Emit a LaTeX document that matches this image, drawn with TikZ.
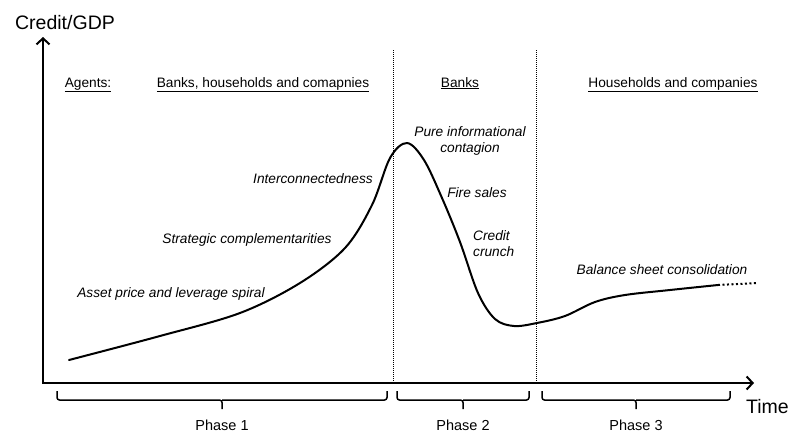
\documentclass[tikz,border=0pt]{standalone}
\usepackage{fontspec}
\setmainfont{Liberation Sans}
\usetikzlibrary{arrows.meta, calc, positioning}

\newcommand{\phasebrace}[2]{%
	\draw [brace] (#1) |- ($(#1)!0.5!(#2)+(0,9)$) -- ++(0,9) ++(0,-9) -| (#2);}

\begin{document}
\begin{tikzpicture}[x=1pt, y=-1pt]

\tikzstyle{axis}	=[line width=2pt, line join=miter, {Straight Barb[length=6pt,width=13pt,line width=2pt]}-{Straight Barb[length=6pt,width=13pt,line width=2pt]}]
\tikzstyle{sep}		=[line width=1pt, dash pattern=on 1pt off 1pt]
\tikzstyle{curve}	=[line width=2pt, line cap=round, line join=round]
\tikzstyle{tail}	=[line width=2pt, dash pattern=on 2pt off 2.5pt]
\tikzstyle{brace}	=[line width=1.5pt, rounded corners=2.5pt]
\tikzstyle{big}		=[inner sep=0pt, font=\fontsize{19.5}{22}\selectfont]
\tikzstyle{hdr}		=[inner sep=0pt, anchor=base, font=\fontsize{13.7}{16}\selectfont]
\tikzstyle{mech}	=[inner sep=0pt, font=\fontsize{13.7}{16}\selectfont\itshape]
\tikzstyle{phase}	=[inner sep=0pt, anchor=base, font=\fontsize{14.5}{17}\selectfont]

\useasboundingbox (0,0) rectangle (800,434);

\coordinate (o)    at (43,383);
\coordinate (ytop) at (43,37);
\coordinate (xend) at (754,383);

\node[big, anchor=base]      (ylab) at (65,29)   {Credit/GDP};
\node[big, anchor=base west] (xlab) at (746,413) {Time};

\draw [axis] (ytop) -- (o) -- (xend);

\coordinate (d1t) at (393,50);
\coordinate (d1b) at (393,383);
\coordinate (d2t) at (536,50);
\coordinate (d2b) at (536,383);

\draw [sep] (d1t) -- (d1b);
\draw [sep] (d2t) -- (d2b);

\node[hdr] (ag)  at (88,87)  {\underline{Agents:}};
\node[hdr] (ag1) at (263,87) {\underline{Banks, households and comapnies}};
\node[hdr] (ag2) at (460,87) {\underline{Banks}};
\node[hdr] (ag3) at (673,87) {\underline{Households and companies}};

\draw [curve] plot[smooth, tension=0.55] coordinates {
	(69,360) (160,336) (240,313) (300,283) (345,248) (372,205) (390,158)
	(407,143) (424,160) (442,198) (460,242) (478,293) (495,319) (514,326)
	(537,323) (565,316) (595,302) (625,295) (670,290) (718,285)};
\coordinate (cend) at (718,285);
\coordinate (cext) at (757,283);
\draw [tail] (cend) -- (cext);

\node[mech, anchor=base] (m1) at (171,297) {Asset price and leverage spiral};
\node[mech, anchor=base] (m2) at (247,243) {Strategic complementarities};
\node[mech, anchor=base] (m3) at (313,183) {Interconnectedness};
\node[mech, align=center] (m4) at (470,140.5) {Pure informational\\contagion};
\node[mech, anchor=base] (m5) at (477,197) {Fire sales};
\node[mech, align=left, anchor=west] (m6) at (473,244) {Credit\\crunch};
\node[mech, anchor=base] (m7) at (662,274) {Balance sheet consolidation};

\coordinate (b1l) at (57,391);
\coordinate (b1r) at (387,391);
\coordinate (b2l) at (397,391);
\coordinate (b2r) at (529,391);
\coordinate (b3l) at (542,391);
\coordinate (b3r) at (730,391);

\phasebrace{b1l}{b1r}
\phasebrace{b2l}{b2r}
\phasebrace{b3l}{b3r}

\node[phase] (p1) at (222,430) {Phase 1};
\node[phase] (p2) at (463,430) {Phase 2};
\node[phase] (p3) at (636,430) {Phase 3};

\end{tikzpicture}
\end{document}
